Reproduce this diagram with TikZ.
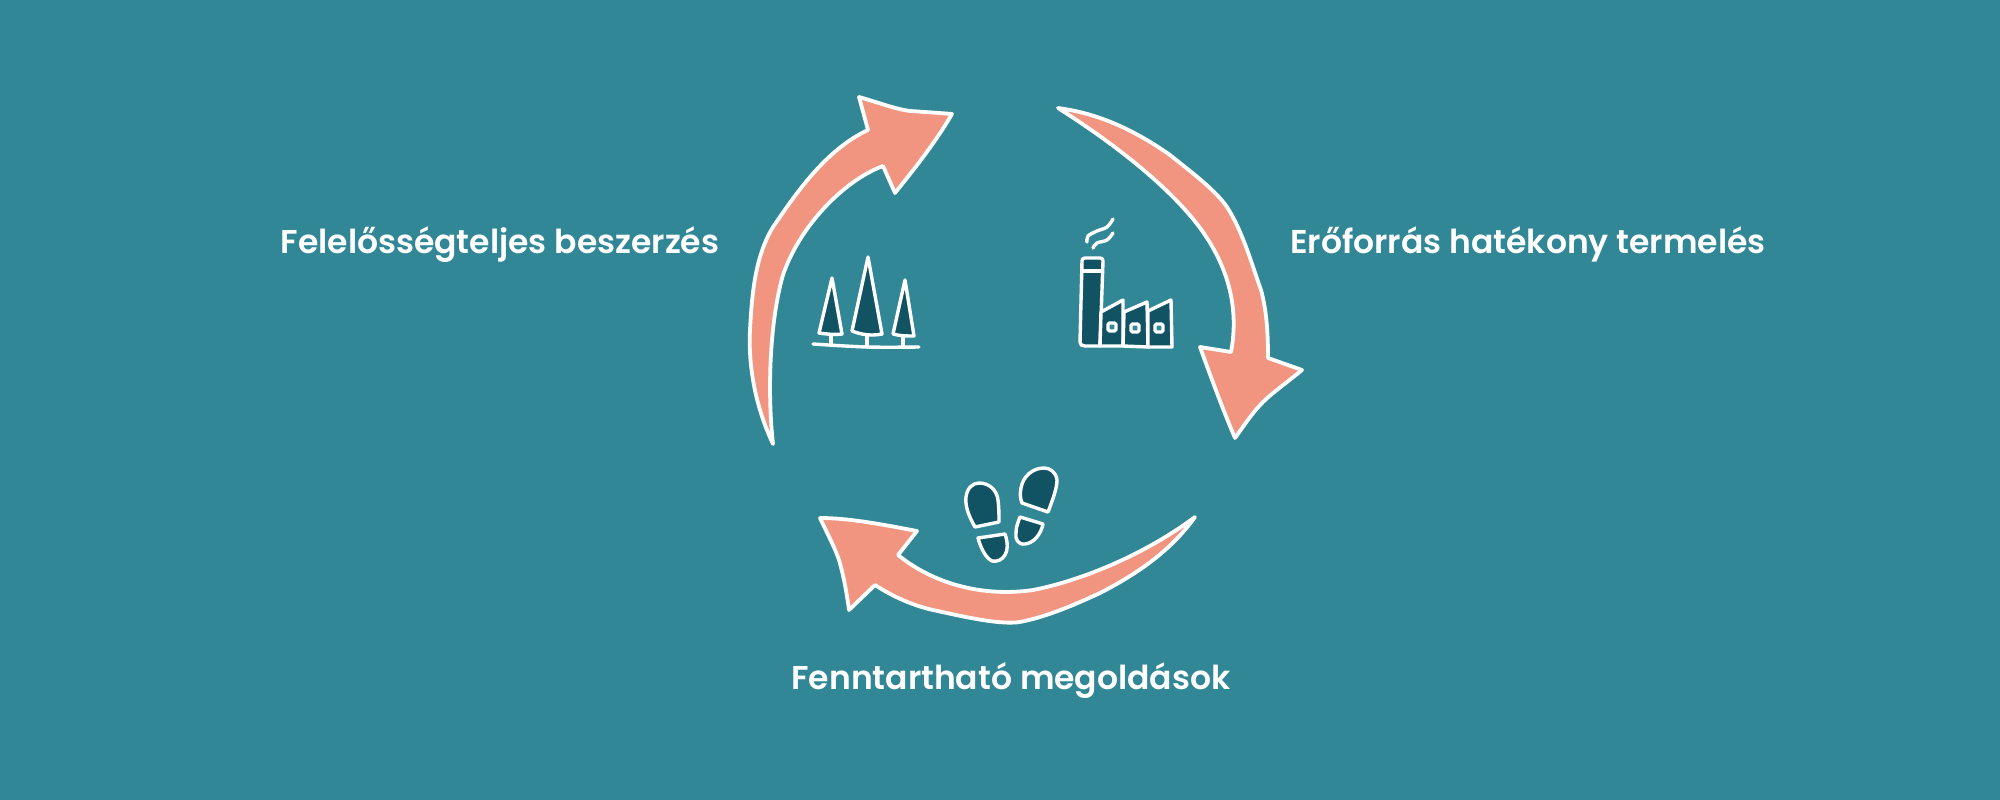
\documentclass[tikz,border=0pt]{standalone}
\usepackage{fontspec}
\setmainfont{Poppins}
\newfontfamily\labelfont{Poppins SemiBold}
\definecolor{bgteal}{HTML}{328796}
\definecolor{salmon}{HTML}{F19581}
\definecolor{darkteal}{HTML}{115362}
\tikzset{
  bigarrow/.style={draw=white,fill=salmon,line width=3.8pt,line join=round,line cap=round},
  icon/.style={draw=white,fill=darkteal,line width=3.4pt,line join=round,line cap=round},
  iconline/.style={draw=white,line width=3.4pt,line join=round,line cap=round},
  label/.style={text=white,font=\labelfont\fontsize{33}{36}\selectfont,anchor=base,inner sep=0pt},
  sm/.style={smooth,tension=.6}
}
\begin{document}
\begin{tikzpicture}[x=1pt,y=-1pt]
\useasboundingbox (0,0) rectangle (2000,800);
\fill[bgteal] (0,0) rectangle (2000,800);
% arrows
\draw[bigarrow] (773,444) .. controls (757,410) and (748,370) .. (750,330) .. controls (752,290) and (756,255) .. (773,227) .. controls (795,195) and (825,150) .. (868,130)
  -- (859,97) .. controls (880,103) and (895,109) .. (910,111) .. controls (925,112) and (940,113) .. (952,114)
  .. controls (935,143) and (915,168) .. (895,193) -- (883,166)
  .. controls (845,180) and (800,225) .. (783,275) .. controls (770,320) and (767,390) .. (773,444) -- cycle;
\draw[bigarrow] (1058,108) .. controls (1095,113) and (1130,127) .. (1170,155) .. controls (1195,175) and (1215,190) .. (1227,207) .. controls (1243,232) and (1252,265) .. (1261,290) .. controls (1267,312) and (1268,335) .. (1268,358)
  -- (1302,370) .. controls (1285,384) and (1272,393) .. (1263,402) .. controls (1252,413) and (1243,427) .. (1235,438) .. controls (1223,410) and (1212,380) .. (1200,347)
  -- (1231,352) .. controls (1238,315) and (1232,275) .. (1205,235) .. controls (1185,205) and (1140,160) .. (1058,108) -- cycle;
\draw[bigarrow] (1195,517) .. controls (1140,558) and (1075,582) .. (1033,590) .. controls (985,597) and (935,585) .. (898,555)
  -- (917,531) .. controls (885,525) and (850,518) .. (820,518) .. controls (828,535) and (835,548) .. (839,560) .. controls (844,577) and (847,595) .. (849,610)
  -- (875,585) .. controls (895,598) and (915,606) .. (933,610) .. controls (965,617) and (1000,625) .. (1020,622) .. controls (1045,617) and (1070,607) .. (1100,593) .. controls (1135,575) and (1170,552) .. (1195,517) -- cycle;
% trees
\draw[iconline] (831,334) -- (831,345) (867,336) -- (867,347) (903,336) -- (903,347);
\draw[iconline] plot[sm] coordinates {(813,344) (867,347) (919,347)};
\draw[icon] (832,278) -- (819,333) .. controls (826,334) and (835,335) .. (842,334) -- cycle;
\draw[icon] (868,257) -- (852,331) .. controls (862,335) and (872,336) .. (882,334) -- cycle;
\draw[icon] (905,280) -- (893,334) .. controls (900,336) and (907,336) .. (914,336) -- cycle;
% factory
\draw[icon] (1085,258) -- (1100,258) .. controls (1102,258) and (1103,259) .. (1103,261) -- (1100,346) -- (1085,346) .. controls (1082,346) and (1080,345) .. (1080,342) -- (1082,261) .. controls (1082,259) and (1083,258) .. (1085,258) -- cycle;
\draw[iconline] (1083,271) -- (1102,271);
\draw[icon] (1101,312) -- (1123,300) -- (1123,346) -- (1100,346) -- cycle;
\draw[icon] (1124,312) -- (1147,302) -- (1148,347) -- (1123,346) -- cycle;
\draw[icon] (1148,311) -- (1171,300) -- (1172,347) -- (1148,347) -- cycle;
\draw[iconline,fill=bgteal,rounded corners=1.5pt] (1108,323) rectangle (1116,331);
\draw[iconline,fill=bgteal,rounded corners=1.5pt] (1131,324) rectangle (1139,332);
\draw[iconline,fill=bgteal,rounded corners=1.5pt] (1155,324) rectangle (1163,332);
\draw[iconline] plot[sm] coordinates {(1113,219) (1107,227) (1097,231) (1088,236) (1087,242)};
\draw[iconline] plot[sm] coordinates {(1113,233) (1107,240) (1097,243) (1093,248)};
% footprints
\draw[icon] (975,527) .. controls (968,515) and (965,505) .. (966,497) .. controls (967,488) and (973,483) .. (979,483) .. controls (990,483) and (997,491) .. (998,500) .. controls (999,508) and (999,515) .. (999,522) -- cycle;
\draw[icon] (978,538) -- (1005,534) .. controls (1008,543) and (1008,550) .. (1005,555) .. controls (1002,560) and (997,562) .. (992,561) .. controls (986,558) and (981,549) .. (978,538) -- cycle;
\draw[icon] (1048,512) .. controls (1053,499) and (1057,488) .. (1057,480) .. controls (1056,472) and (1050,468) .. (1044,468) .. controls (1033,468) and (1023,476) .. (1021,488) .. controls (1020,493) and (1020,498) .. (1022,503) -- cycle;
\draw[icon] (1020,517) -- (1043,524) .. controls (1041,534) and (1034,543) .. (1025,544) .. controls (1018,545) and (1015,539) .. (1016,533) .. controls (1016,527) and (1018,522) .. (1020,517) -- cycle;
% labels
\node[label] (left) at (500,253) {Felelősségteljes beszerzés};
\node[label] (right) at (1528,253) {Erőforrás hatékony termelés};
\node[label] (bottom) at (1011,689) {Fenntartható megoldások};
\end{tikzpicture}
\end{document}
